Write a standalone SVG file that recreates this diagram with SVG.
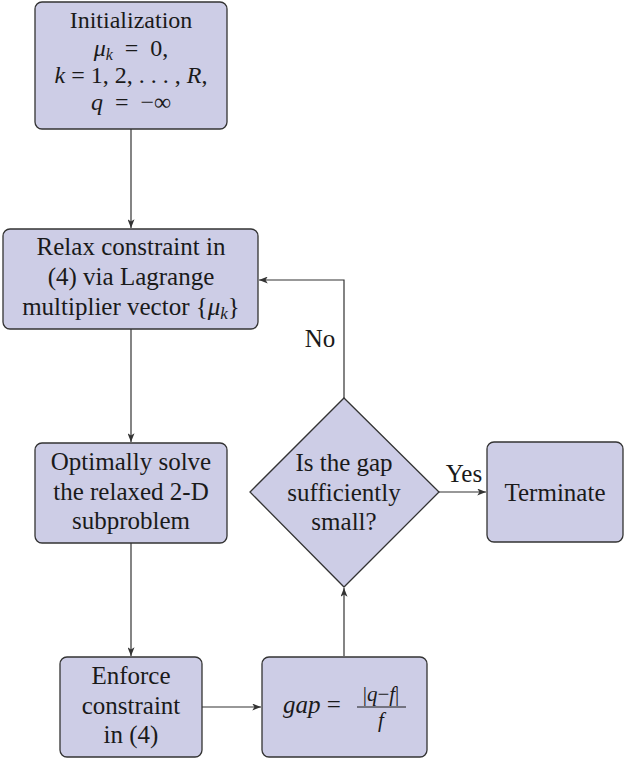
<svg xmlns="http://www.w3.org/2000/svg" width="624" height="759" viewBox="0 0 624 759">
<style>
.box{fill:#cdcde6;stroke:#333;stroke-width:1.3}
.t{font-family:"Liberation Serif","DejaVu Serif","Times New Roman",serif;font-size:25px;fill:#1a1a1a;text-anchor:middle}
.s{font-size:24px}
.fr{font-size:21px}
.i{font-style:italic}
.e{fill:none;stroke:#333;stroke-width:1.2}
</style>
<defs>
<marker id="ah" viewBox="0 0 10 8" refX="10" refY="4" markerWidth="9" markerHeight="7" markerUnits="userSpaceOnUse" orient="auto">
<path d="M0,0 L10,4 L0,8 L2.5,4 Z" fill="#333"/>
</marker>
</defs>
<rect width="624" height="759" fill="#fff"/>
<g id="connectors">
<line class="e" x1="131" y1="129" x2="131" y2="228" marker-end="url(#ah)"/>
<line class="e" x1="131" y1="329" x2="131" y2="442" marker-end="url(#ah)"/>
<line class="e" x1="131" y1="543" x2="131" y2="656" marker-end="url(#ah)"/>
<line class="e" x1="202" y1="707" x2="261" y2="707" marker-end="url(#ah)"/>
<line class="e" x1="344" y1="656" x2="344" y2="588" marker-end="url(#ah)"/>
<polyline class="e" points="344,398 344,280 259,280" marker-end="url(#ah)"/>
<line class="e" x1="439" y1="492" x2="486" y2="492" marker-end="url(#ah)"/>
<text class="t" x="320" y="347">No</text>
<text class="t" x="464" y="482">Yes</text>
</g>
<g id="init">
<rect class="box" x="35" y="2" width="192" height="127" rx="7"/>
<text class="t s" x="131" y="28">Initialization</text>
<text class="t s" x="131" y="56"><tspan class="i">μ</tspan><tspan class="i" style="font-size:16px" dy="4">k</tspan><tspan dy="-4" xml:space="preserve">  =  0,</tspan></text>
<text class="t s" x="131" y="83"><tspan class="i">k</tspan> = 1, 2, . . . , <tspan class="i">R</tspan>,</text>
<text class="t s" x="131" y="110" xml:space="preserve"><tspan class="i">q</tspan>  =  −∞</text>
</g>
<g id="relax">
<rect class="box" x="3" y="229" width="255" height="100" rx="7"/>
<text class="t" x="131" y="255">Relax constraint in</text>
<text class="t" x="131" y="285">(4) via Lagrange</text>
<text class="t" x="131" y="315">multiplier vector {<tspan class="i">μ</tspan><tspan class="i" style="font-size:17px" dy="4">k</tspan><tspan dy="-4">}</tspan></text>
</g>
<g id="solve">
<rect class="box" x="35" y="443" width="192" height="100" rx="7"/>
<text class="t" x="131" y="470">Optimally solve</text>
<text class="t" x="131" y="500">the relaxed 2-D</text>
<text class="t" x="131" y="529">subproblem</text>
</g>
<g id="enforce">
<rect class="box" x="60" y="657" width="142" height="100" rx="7"/>
<text class="t" x="131" y="684">Enforce</text>
<text class="t" x="131" y="714">constraint</text>
<text class="t" x="131" y="743">in (4)</text>
</g>
<g id="gap">
<rect class="box" x="262" y="657" width="165" height="100" rx="7"/>
<text class="t" x="312" y="713"><tspan class="i">gap</tspan> =</text>
<text class="t fr" x="381" y="701"><tspan>|</tspan><tspan class="i">q</tspan>−<tspan class="i">f</tspan>|</text>
<line x1="357" y1="707" x2="406" y2="707" stroke="#1a1a1a" stroke-width="1"/>
<text class="t fr i" x="381" y="727">f</text>
</g>
<g id="decision">
<polygon class="box" points="344,398 439,492 344,587 250,492"/>
<text class="t" x="344" y="471">Is the gap</text>
<text class="t" x="344" y="501">sufficiently</text>
<text class="t" x="344" y="530">small?</text>
</g>
<g id="terminate">
<rect class="box" x="487" y="442" width="136" height="100" rx="7"/>
<text class="t" x="555" y="501">Terminate</text>
</g>
</svg>
